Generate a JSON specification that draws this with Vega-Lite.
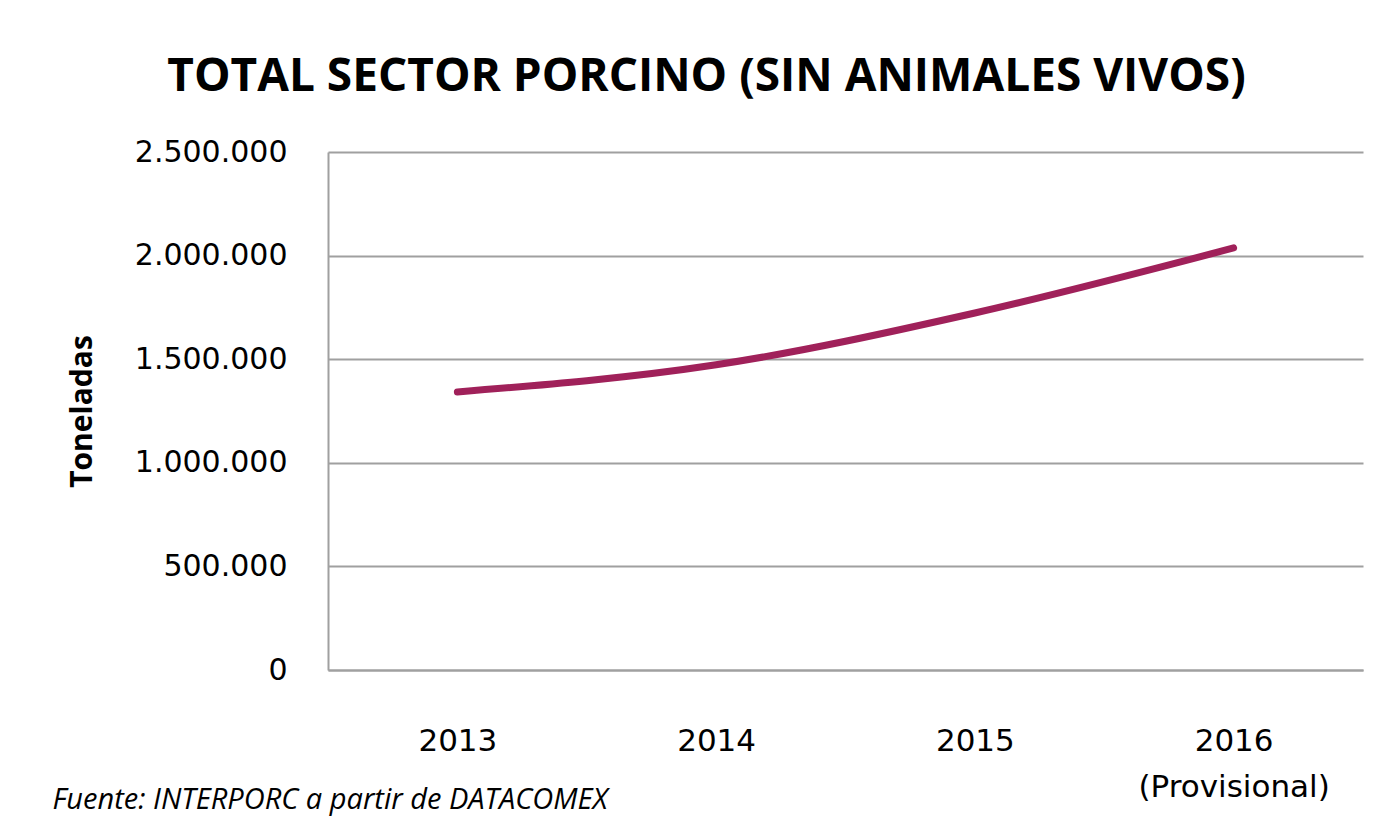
{
  "$schema": "https://vega.github.io/schema/vega-lite/v6.json",
  "autosize": {"type": "none"},
  "padding": {"left": 328, "top": 152, "right": 28, "bottom": 170},
  "width": 1035,
  "height": 518,
  "background": "white",
  "title": {
    "text": "TOTAL SECTOR PORCINO (SIN ANIMALES VIVOS)",
    "font": "Open Sans",
    "fontWeight": "bold",
    "fontSize": 46,
    "color": "#000000",
    "anchor": "middle",
    "baseline": "alphabetic",
    "offset": 0,
    "dx": -139
  },
  "data": {
    "values": [
      {"year": "2013", "toneladas": 1342000},
      {"year": "2014", "toneladas": 1473000},
      {"year": "2015", "toneladas": 1723000},
      {"year": "2016", "toneladas": 2037000}
    ]
  },
  "mark": {"type": "line", "color": "#a0215a", "strokeWidth": 7, "strokeCap": "round", "interpolate": "monotone"},
  "encoding": {
    "x": {
      "field": "year",
      "type": "ordinal",
      "scale": {"paddingInner": 0, "paddingOuter": 0},
      "axis": {
        "title": "Fuente: INTERPORC a partir de DATACOMEX",
        "titleFont": "Open Sans",
        "titleFontStyle": "italic",
        "titleFontWeight": "normal",
        "titleFontSize": 29,
        "titleColor": "#000000",
        "titleAnchor": "start",
        "titleAlign": "left",
        "titleBaseline": "alphabetic",
        "titleX": -276,
        "titleY": 138,
        "labelAngle": 0,
        "labelFont": "DejaVu Sans",
        "labelFontSize": 31,
        "labelColor": "#000000",
        "labelBaseline": "alphabetic",
        "labelPadding": 80,
        "labelLineHeight": 46,
        "labelLimit": 0,
        "labelExpr": "datum.value == '2016' ? ['2016', '(Provisional)'] : datum.value",
        "ticks": false,
        "domainColor": "#a0a0a0",
        "domainWidth": 2,
        "grid": false
      }
    },
    "y": {
      "field": "toneladas",
      "type": "quantitative",
      "scale": {"domain": [0, 2500000], "nice": false},
      "axis": {
        "title": "Toneladas",
        "titleFont": "Open Sans",
        "titleFontWeight": "bold",
        "titleFontSize": 30,
        "titleColor": "#000000",
        "titlePadding": 37,
        "values": [0, 500000, 1000000, 1500000, 2000000, 2500000],
        "format": ",d",
        "labelFont": "DejaVu Sans",
        "labelFontSize": 30,
        "labelColor": "#000000",
        "labelPadding": 41,
        "ticks": false,
        "domainColor": "#a0a0a0",
        "domainWidth": 2,
        "grid": true,
        "gridColor": "#a0a0a0",
        "gridWidth": 2
      }
    }
  },
  "config": {
    "locale": {
      "number": {"decimal": ",", "thousands": ".", "grouping": [3], "currency": ["", " €"]}
    },
    "view": {"stroke": null}
  }
}
